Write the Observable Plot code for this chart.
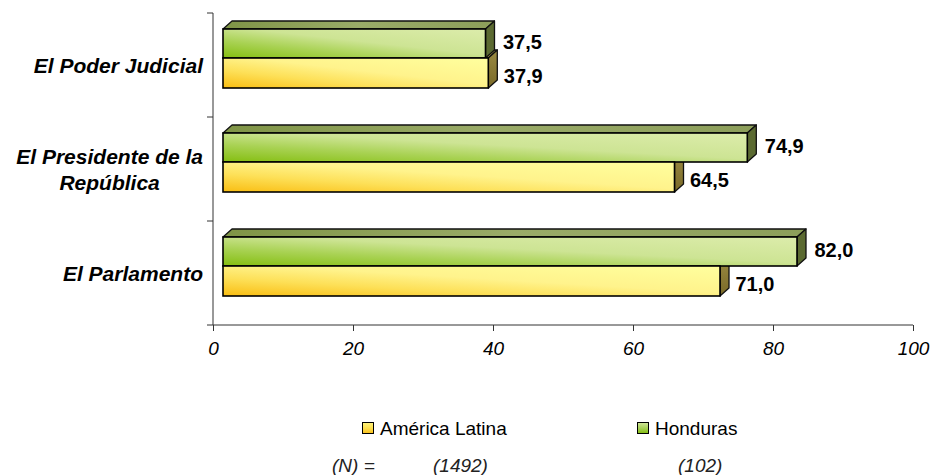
<!DOCTYPE html>
<html>
<head>
<meta charset="utf-8">
<script src="https://cdn.jsdelivr.net/npm/d3@7"></script>
<script src="https://cdn.jsdelivr.net/npm/@observablehq/plot@0.6"></script>
<style>
  html, body { margin: 0; padding: 0; background: #fff; }
  #wrap { position: relative; width: 933px; height: 475px; overflow: hidden; font-family: "Liberation Sans", Arial, sans-serif; }
  #chart { position: absolute; left: 0; top: 0; }
  .leg { position: absolute; font-size: 19px; color: #000; white-space: nowrap; line-height: 1; }
  .sw { position: absolute; width: 10px; height: 10px; border: 1.5px solid #000; }
  .n { position: absolute; font-size: 19px; font-style: italic; color: #222; white-space: nowrap; line-height: 1; }
</style>
</head>
<body>
<div id="wrap">
  <div id="chart"></div>
  <div id="legend"></div>
</div>
<script>
// ---------- data ----------
const categories = ["El Poder Judicial", "El Presidente de la República", "El Parlamento"];
const categoryLines = [["El Poder Judicial"], ["El Presidente de la", "República"], ["El Parlamento"]];
const seriesNames = ["América Latina", "Honduras"];
const americaLatina = [37.9, 64.5, 71.0];
const honduras = [37.5, 74.9, 82.0];
const sampleSizes = ["(1492)", "(102)"];
const sampleLabel = "(N) =";
const xTicks = [0, 20, 40, 60, 80, 100];

const rows = categories.flatMap((c, i) => [
  {category: c, series: "Honduras", value: honduras[i]},
  {category: c, series: "América Latina", value: americaLatina[i]}
]);
const fmt = v => v.toFixed(1).replace(".", ",");

// ---------- styles ----------
const SHIFT = 10;        // 3D front-face shift (px)
const DX = 9, DY = -8;   // depth vector
const slot = {           // fraction of category band
  "Honduras": [16 / 104, 45 / 104],
  "América Latina": [45 / 104, 75 / 104]
};
const fills = {
  "Honduras": {front: "url(#gGreen)", top: "url(#gGreenTop)", side: "#5b6a31"},
  "América Latina": {front: "url(#gYellow)", top: "#b9a84e", side: "url(#gYellowSide)"}
};
const NS = "http://www.w3.org/2000/svg";
function el(tag, attrs) {
  const e = document.createElementNS(NS, tag);
  for (const k in attrs) e.setAttribute(k, attrs[k]);
  return e;
}
function bandStep(y) { return Math.abs(y(categories[1]) - y(categories[0])); }

function defsMark() {
  const g = el("g", {});
  g.innerHTML = `<defs>
    <linearGradient id="gGreen" x1="0" y1="1" x2="1" y2="0">
      <stop offset="0" stop-color="#84be10"/>
      <stop offset="0.3" stop-color="#a9d254"/>
      <stop offset="0.55" stop-color="#cde494"/>
      <stop offset="1" stop-color="#dcecab"/>
    </linearGradient>
    <linearGradient id="gYellow" x1="0" y1="1" x2="1" y2="0">
      <stop offset="0" stop-color="#f9bd12"/>
      <stop offset="0.3" stop-color="#fde058"/>
      <stop offset="0.55" stop-color="#fff38c"/>
      <stop offset="1" stop-color="#ffff9e"/>
    </linearGradient>
    <linearGradient id="gGreenTop" x1="0" y1="0" x2="1" y2="0">
      <stop offset="0" stop-color="#7f9446"/>
      <stop offset="0.5" stop-color="#9aab68"/>
      <stop offset="1" stop-color="#8c9e5a"/>
    </linearGradient>
    <linearGradient id="gYellowSide" x1="0" y1="0" x2="0" y2="1">
      <stop offset="0" stop-color="#9a8a42"/>
      <stop offset="1" stop-color="#7a6a28"/>
    </linearGradient>
  </defs>`;
  return g;
}

function backFaces(series) {
  return (index, scales) => {
    const g = el("g", {});
    const step = bandStep(scales.y);
    for (const r of rows.filter(d => d.series === series)) {
      const x0 = scales.x(0) + SHIFT, x1 = scales.x(r.value) + SHIFT;
      const yb = scales.y(r.category);
      const yt = yb + slot[series][0] * step, ybo = yb + slot[series][1] * step;
      g.appendChild(el("path", {
        d: `M${x0},${yt}L${x0 + DX},${yt + DY}L${x1 + DX},${yt + DY}L${x1},${yt}Z`,
        fill: fills[series].top, stroke: "#111", "stroke-width": 1.3, "stroke-linejoin": "round"
      }));
      g.appendChild(el("path", {
        d: `M${x1},${yt}L${x1 + DX},${yt + DY}L${x1 + DX},${ybo + DY}L${x1},${ybo}Z`,
        fill: fills[series].side, stroke: "#111", "stroke-width": 1.3, "stroke-linejoin": "round"
      }));
    }
    return g;
  };
}
function frontFaces(series) {
  return (index, scales) => {
    const g = el("g", {});
    const step = bandStep(scales.y);
    for (const r of rows.filter(d => d.series === series)) {
      const x0 = scales.x(0) + SHIFT, x1 = scales.x(r.value) + SHIFT;
      const yb = scales.y(r.category);
      const yt = yb + slot[series][0] * step, ybo = yb + slot[series][1] * step;
      g.appendChild(el("rect", {
        x: x0, y: yt, width: x1 - x0, height: ybo - yt,
        fill: fills[series].front, stroke: "#000", "stroke-width": 1.6
      }));
    }
    return g;
  };
}
function axesMark(index, scales, values, dims) {
  const g = el("g", {stroke: "#333", "stroke-width": 1, fill: "none"});
  const x = scales.x, y = scales.y;
  const yEnd = dims.height - dims.marginBottom;
  g.appendChild(el("line", {x1: x(0), x2: x(0), y1: dims.marginTop, y2: yEnd}));
  g.appendChild(el("line", {x1: x(0), x2: x(100), y1: yEnd, y2: yEnd}));
  for (const c of categories) {
    const yy = y(c);
    g.appendChild(el("line", {x1: x(0) - 6, x2: x(0), y1: yy, y2: yy}));
  }
  g.appendChild(el("line", {x1: x(0) - 6, x2: x(0), y1: yEnd, y2: yEnd}));
  return g;
}
function yLabelsMark(index, scales) {
  const g = el("g", {});
  const font = "italic bold 21px 'Liberation Sans', Arial, sans-serif";
  const ctx = document.createElement("canvas").getContext("2d");
  ctx.font = font;
  const right = scales.x(0) - 10;
  const step = bandStep(scales.y);
  categories.forEach((c, i) => {
    const lines = categoryLines[i];
    const w = Math.max(...lines.map(l => ctx.measureText(l).width));
    const cx = right - w / 2;
    const cy = scales.y(c) + step / 2;
    const lh = 26;
    lines.forEach((l, j) => {
      const t = el("text", {
        x: cx, y: cy + (j - (lines.length - 1) / 2) * lh,
        "text-anchor": "middle", "dominant-baseline": "central",
        "font-family": "'Liberation Sans', Arial, sans-serif",
        "font-size": 21, "font-style": "italic", "font-weight": "bold", fill: "#000"
      });
      t.textContent = l;
      g.appendChild(t);
    });
  });
  return g;
}

const chart = Plot.plot({
  width: 933,
  height: 380,
  marginLeft: 213,
  marginRight: 20,
  marginTop: 13,
  marginBottom: 55,
  style: {fontFamily: "'Liberation Sans', Arial, sans-serif", background: "transparent", overflow: "visible"},
  x: {domain: [0, 100], axis: null},
  y: {type: "band", domain: categories, padding: 0, axis: null},
  marks: [
    defsMark,
    backFaces("América Latina"),
    backFaces("Honduras"),
    frontFaces("Honduras"),
    frontFaces("América Latina"),
    axesMark,
    Plot.axisX({ticks: xTicks, tickSize: 6, tickPadding: 10, fontSize: 19, fontStyle: "italic", stroke: "#333", fill: "#000", label: null, tickFormat: d => String(d)}),
    yLabelsMark,
    Plot.text(rows.filter(d => d.series === "Honduras"), {
      x: "value", y: "category", text: d => fmt(d.value), textAnchor: "start",
      dx: 27, dy: -23, fontSize: 20, fontWeight: "bold", fill: "#000"
    }),
    Plot.text(rows.filter(d => d.series === "América Latina"), {
      x: "value", y: "category", text: d => fmt(d.value), textAnchor: "start",
      dx: 25, dy: 11, fontSize: 20, fontWeight: "bold", fill: "#000"
    })
  ]
});
document.getElementById("chart").appendChild(chart);

// ---------- legend ----------
const legend = document.getElementById("legend");
const legendPos = [{sw: 362, tx: 380}, {sw: 637, tx: 655}];
const legendFill = {
  "América Latina": "linear-gradient(to bottom, #fff27a 0%, #fde050 50%, #f9c221 100%)",
  "Honduras": "linear-gradient(to bottom, #cfe596 0%, #a9d15a 50%, #86bf16 100%)"
};
seriesNames.forEach((s, i) => {
  const sw = document.createElement("div");
  sw.className = "sw";
  sw.style.left = legendPos[i].sw + "px";
  sw.style.top = "422px";
  sw.style.background = legendFill[s];
  legend.appendChild(sw);
  const t = document.createElement("div");
  t.className = "leg";
  t.style.left = legendPos[i].tx + "px";
  t.style.top = "419px";
  t.textContent = s;
  legend.appendChild(t);
});
const nPos = [433, 678];
const nl = document.createElement("div");
nl.className = "n"; nl.style.left = "332px"; nl.style.top = "456px"; nl.textContent = sampleLabel;
legend.appendChild(nl);
sampleSizes.forEach((s, i) => {
  const t = document.createElement("div");
  t.className = "n"; t.style.left = nPos[i] + "px"; t.style.top = "456px"; t.textContent = s;
  legend.appendChild(t);
});
</script>
</body>
</html>
